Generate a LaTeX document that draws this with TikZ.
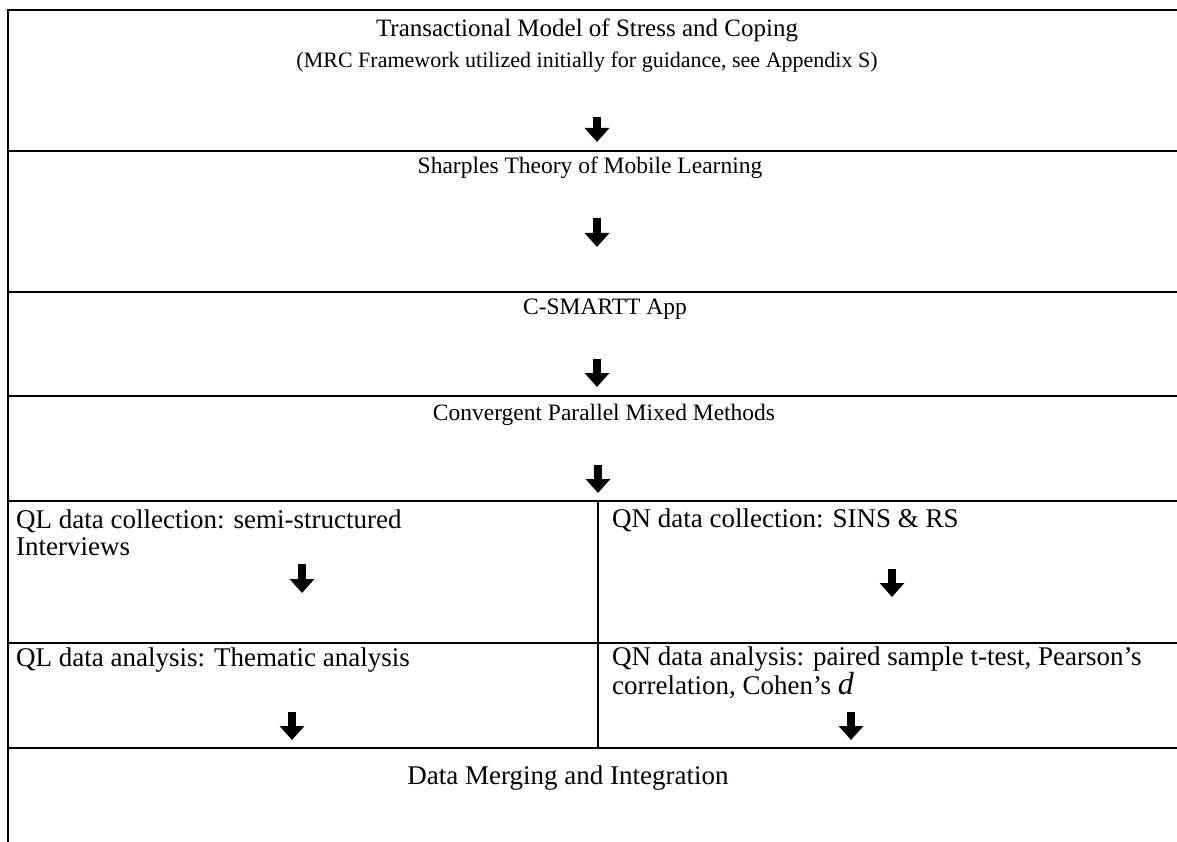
\documentclass[tikz,border=0pt]{standalone}
\usepackage{fontspec}
\setmainfont{Liberation Serif}
\usetikzlibrary{arrows.meta,positioning}

\begin{document}
\begin{tikzpicture}[
    x=1pt, y=-1pt,
    rule/.style={line width=2pt, black},
    flow/.style={line width=8pt, -{Triangle[width=24pt,length=14pt]}},
    headcell/.style={inner sep=0pt, font=\fontsize{25}{30}\selectfont},
    notecell/.style={inner sep=0pt, font=\fontsize{22}{27}\selectfont},
    cell/.style={inner sep=0pt, font=\fontsize{23.5}{27}\selectfont},
    lowcell/.style={inner sep=0pt, font=\fontsize{27}{26.5}\selectfont},
    leftcell/.style={lowcell, anchor=west, align=left}
]
\useasboundingbox (0,0) rectangle (1177,842);

% Table rules
\draw[rule] (7.5,10.5) -- (7.5,842);
\draw[rule] (6.5,10.5) -- (1177,10.5);
\draw[rule] (6.5,151) -- (1177,151);
\draw[rule] (6.5,291.7) -- (1177,291.7);
\draw[rule] (6.5,395.7) -- (1177,395.7);
\draw[rule] (6.5,501) -- (1177,501);
\draw[rule] (6.5,642.7) -- (1177,642.7);
\draw[rule] (6.5,747.7) -- (1177,747.7);
\draw[rule] (598.3,501) -- (598.3,747.7);

% Cell texts
\node[headcell] (tmsc) at (587,30) {Transactional Model of Stress and Coping};
\node[notecell] (mrc) at (587,62) {(MRC Framework utilized initially for guidance, see Appendix S)};
\node[cell] (sharples) at (590,168) {Sharples Theory of Mobile Learning};
\node[cell] (app) at (605,309) {C-SMARTT App};
\node[cell] (cpmm) at (604,415) {Convergent Parallel Mixed Methods};
\node[leftcell] (qlcoll) at (16,533) {QL data collection: semi-structured\\Interviews};
\node[leftcell] (qncoll) at (612,520) {QN data collection: SINS \& RS};
\node[leftcell] (qlana) at (16,660) {QL data analysis: Thematic analysis};
\node[leftcell] (qnana) at (612,673) {QN data analysis: paired sample t-test, Pearson’s\\correlation, Cohen’s {\fontsize{32}{26}\selectfont\itshape d}};
\node[lowcell] (merge) at (568,778) {Data Merging and Integration};

% Arrow ends
\coordinate (d1s) at (597,117);
\coordinate (d1e) at (597,142);
\coordinate (d2s) at (597,218);
\coordinate (d2e) at (597,247);
\coordinate (d3s) at (597,359);
\coordinate (d3e) at (597,387);
\coordinate (d4s) at (598,465);
\coordinate (d4e) at (598,493);
\coordinate (d5s) at (302,564);
\coordinate (d5e) at (302,593);
\coordinate (d6s) at (892,569);
\coordinate (d6e) at (892,597);
\coordinate (d7s) at (292,712);
\coordinate (d7e) at (292,740);
\coordinate (d8s) at (851,712);
\coordinate (d8e) at (851,740);

% Down arrows
\draw[flow] (d1s) -- (d1e);
\draw[flow] (d2s) -- (d2e);
\draw[flow] (d3s) -- (d3e);
\draw[flow] (d4s) -- (d4e);
\draw[flow] (d5s) -- (d5e);
\draw[flow] (d6s) -- (d6e);
\draw[flow] (d7s) -- (d7e);
\draw[flow] (d8s) -- (d8e);

\end{tikzpicture}
\end{document}
